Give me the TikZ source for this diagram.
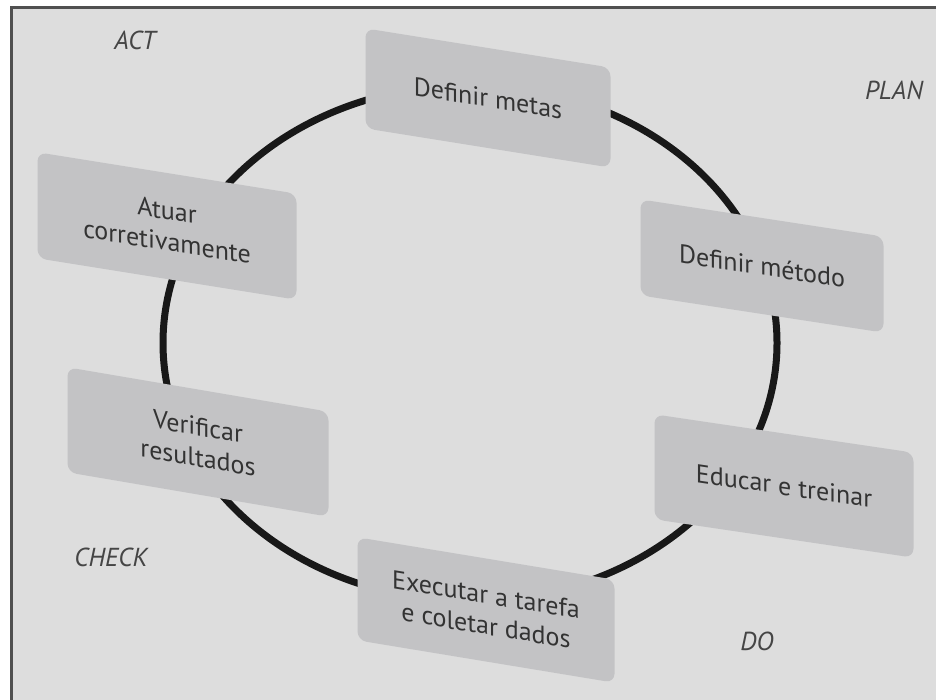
\documentclass[tikz,border=0pt]{standalone}
\usepackage{fontspec}
\setmainfont{PT Sans}
\definecolor{pagegray}{HTML}{DDDDDD}
\definecolor{framegray}{HTML}{505050}
\definecolor{boxgray}{HTML}{C3C3C5}
\definecolor{textgray}{HTML}{333333}
\definecolor{labelgray}{HTML}{454545}
\definecolor{cycleblack}{HTML}{181818}
\begin{document}
\begin{tikzpicture}[x=1pt,y=-1pt,
  stagebox/.style={fill=boxgray, rounded corners=9pt, text=textgray, align=center,
    font=\fontsize{26}{31}\selectfont, inner sep=0pt, transform shape},
  phase/.style={text=labelgray, font=\fontsize{26}{30}\selectfont\itshape, inner sep=0pt}]
\useasboundingbox (0,0) rectangle (936,700);
% page and frame
\fill[white] (0,0) rectangle (936,700);
\fill[pagegray] (11,8) rectangle (936,700);
\draw[framegray, line width=3pt] (11,700) -- (11,8) -- (936,8);

% the cycle behind the stages
\draw[cycleblack, line width=7pt] (470,343) ellipse [x radius=307pt, y radius=258pt];

% stages of the cycle
\begin{scope}[shift={(488,98)}, yslant=-0.16]
  \node[stagebox, minimum width=245pt, minimum height=100pt] (metas) at (0,0) {Definir metas};
\end{scope}
\begin{scope}[shift={(762,266)}, yslant=-0.153]
  \node[stagebox, minimum width=243pt, minimum height=96pt] (metodo) at (0,0) {Definir método};
\end{scope}
\begin{scope}[shift={(784,486)}, yslant=-0.148]
  \node[stagebox, minimum width=259pt, minimum height=105pt] (educar) at (0,0) {Educar e treinar};
\end{scope}
\begin{scope}[shift={(486,610)}, yslant=-0.165]
  \node[stagebox, minimum width=257pt, minimum height=103pt] (executar) at (0,0) {Executar a tarefa\\e coletar dados};
\end{scope}
\begin{scope}[shift={(198,442)}, yslant=-0.17]
  \node[stagebox, minimum width=261pt, minimum height=105pt] (verificar) at (0,0) {Verificar\\resultados};
\end{scope}
\begin{scope}[shift={(167,226)}, yslant=-0.16]
  \node[stagebox, minimum width=259pt, minimum height=106pt] (atuar) at (0,0) {Atuar\\corretivamente};
\end{scope}

% phase labels
\node[phase] (act) at (135,40) {ACT};
\node[phase] (plan) at (894,90) {PLAN};
\node[phase] (check) at (111,557) {CHECK};
\node[phase] (do) at (757,641) {DO};
\end{tikzpicture}
\end{document}
